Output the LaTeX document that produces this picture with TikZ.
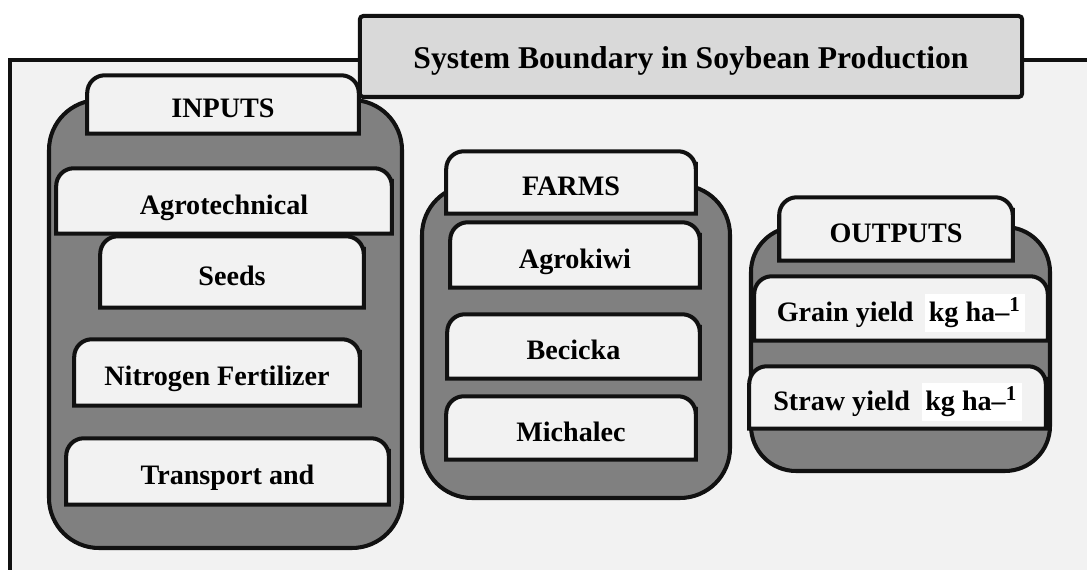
\documentclass[tikz,border=0pt]{standalone}
\usepackage{fontspec}
\setmainfont{Liberation Serif}
\definecolor{paper}{HTML}{F2F2F2}
\definecolor{titlegray}{HTML}{D9D9D9}
\definecolor{groupgray}{HTML}{808080}
\definecolor{edge}{HTML}{111111}
\newcommand{\perha}{{\setlength{\fboxsep}{1pt}\colorbox{white}{kg ha–\textsuperscript{1}}}}
\tikzset{
  outline/.style={draw=edge, line width=1.15pt},
  group/.style={outline, fill=groupgray},
  titlebox/.style={outline, fill=titlegray, rounded corners=1pt, inner sep=0pt,
    text height=0.66em, text depth=0pt,
    minimum width=6.62cm, minimum height=0.81cm, font=\fontsize{9}{11}\selectfont\bfseries},
  box/.style={inner sep=0pt, text height=0.76em, text depth=0pt,
    font=\fontsize{8}{9.6}\selectfont\bfseries,
    append after command={\pgfextra{\pgfinterruptpath
      \filldraw[outline, fill=paper, rounded corners=5pt] (\tikzlastnode.south west)
        -- (\tikzlastnode.north west) -- (\tikzlastnode.north east)
        -- ([yshift=-8pt]\tikzlastnode.north east) [sharp corners]
        -- (\tikzlastnode.south east) -- cycle;
    \endpgfinterruptpath}}},
}
\begin{document}
\begin{tikzpicture}[x=0.01cm, y=-0.01cm]
  \useasboundingbox (0,0) rectangle (1087,570);
  \clip (0,0) rectangle (1087,570);
  %%%%%%%%%%%%%The boundary%%%%%%%%%%%%%%%%%%%%%%
  \filldraw[outline, fill=paper] (10,60) rectangle (1120,620);
  \node[titlebox] (title) at (691,56.5) {System Boundary in Soybean Production};

  %%%%%%%%%%%%%Inputs%%%%%%%%%%%%%%%%%%%%%%
  \draw[group, rounded corners=0.5cm] (49,100) rectangle (402,548);
  \node[box, minimum width=2.70cm, minimum height=0.57cm] (inputs) at (223,104.5) {INPUTS};
  \node[box, minimum width=3.34cm, minimum height=0.64cm] (agro) at (224,201) {Agrotechnical};
  \node[box, minimum width=2.62cm, minimum height=0.70cm] (seeds) at (232,272) {Seeds};
  \node[box, minimum width=2.84cm, minimum height=0.65cm] (nitro) at (217,372.5) {Nitrogen Fertilizer};
  \node[box, minimum width=3.21cm, minimum height=0.65cm] (transport) at (227.5,471.5) {Transport and};

  %%%%%%%%%%%%%Farms%%%%%%%%%%%%%%%%%%%%%%
  \draw[group, rounded corners=0.5cm] (422,185) rectangle (730,498);
  \node[box, minimum width=2.48cm, minimum height=0.61cm] (farms) at (571,182.5) {FARMS};
  \node[box, minimum width=2.48cm, minimum height=0.64cm] (agrokiwi) at (575,255) {Agrokiwi};
  \node[box, minimum width=2.51cm, minimum height=0.63cm] (becicka) at (573.5,346.5) {Becicka};
  \node[box, minimum width=2.48cm, minimum height=0.62cm] (michalec) at (571,428) {Michalec};

  %%%%%%%%%%%%%Outputs%%%%%%%%%%%%%%%%%%%%%%
  \draw[group, rounded corners=0.45cm] (751,227) rectangle (1050,471);
  \node[box, minimum width=2.32cm, minimum height=0.62cm] (outputs) at (896,229) {OUTPUTS};
  \node[box, minimum width=2.92cm, minimum height=0.63cm] (grain) at (901,308.5) {Grain yield\, \perha};
  \node[box, minimum width=2.95cm, minimum height=0.61cm] (straw) at (897.5,397.5) {Straw yield\, \perha};
\end{tikzpicture}
\end{document}
